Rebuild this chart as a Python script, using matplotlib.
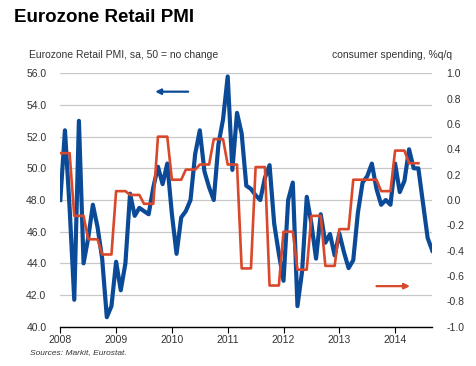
import matplotlib
matplotlib.use("Agg")
import matplotlib.pyplot as plt
import numpy as np

plt.rcParams['font.family'] = ['Liberation Sans', 'DejaVu Sans']

# Monthly Eurozone Retail PMI, Jan 2008 - Sep 2014
pmi = [48.0, 52.4, 47.5, 41.7, 53.0, 44.0, 45.6, 47.7, 46.3, 44.3, 40.6, 41.3,
       44.1, 42.3, 44.0, 48.4, 47.0, 47.5, 47.3, 47.1, 48.8, 50.1, 49.0, 50.3,
       47.1, 44.6, 46.9, 47.3, 48.0, 50.9, 52.4, 49.8, 48.8, 48.0, 51.5, 53.1,
       55.8, 49.9, 53.5, 52.2, 48.9, 48.7, 48.3, 48.0, 49.4, 50.2, 46.5, 44.6,
       42.9, 48.0, 49.1, 41.3, 43.5, 48.2, 46.5, 44.3, 47.1, 45.3, 45.85, 44.5,
       45.9, 44.7, 43.7, 44.2, 47.2, 49.1, 49.5, 50.3, 48.7, 47.7, 48.0, 47.7,
       50.3, 48.5, 49.2, 51.2, 50.0, 50.0, 47.8, 45.6, 44.8]

# Quarterly consumer spending %q/q, Q1 2008 - Q2 2014
spending_q = [0.37, -0.125, -0.31, -0.43,
              0.07, 0.04, -0.03, 0.50,
              0.16, 0.24, 0.28, 0.48,
              0.28, -0.54, 0.26, -0.675,
              -0.25, -0.55, -0.125, -0.52,
              -0.23, 0.16, 0.16, 0.07,
              0.39, 0.29]

year_labels = ['2008', '2009', '2010', '2011', '2012', '2013', '2014']
left_ticks = [40, 42, 44, 46, 48, 50, 52, 54, 56]
right_ticks = [-1.0, -0.8, -0.6, -0.4, -0.2, 0.0, 0.2, 0.4, 0.6, 0.8, 1.0]

BLUE = '#0b4a97'
ORANGE = '#d9482b'
TXT = '#333333'

fig = plt.figure(figsize=(4.76, 3.66), dpi=100)
ax = fig.add_axes([0.1267, 0.1074, 0.9082 - 0.1267, 0.7997 - 0.1074])
ax2 = ax.twinx()

months = np.arange(len(pmi))
spend_m = np.repeat(spending_q, 3)
months_s = np.arange(len(spend_m))

ax.plot(months, pmi, color=BLUE, lw=3.0, solid_joinstyle='round', zorder=3)
ax2.plot(months_s, spend_m, color=ORANGE, lw=1.9, zorder=4)

ax.set_xlim(0, 80)
ax.set_ylim(40, 56)
ax2.set_ylim(-1.0, 1.0)

ax.set_yticks(left_ticks)
ax.set_yticklabels([f'{v:.1f}' for v in left_ticks])
ax2.set_yticks(right_ticks)
ax2.set_yticklabels([f'{v:.1f}' for v in right_ticks])
for lab in ax2.get_yticklabels():
    lab.set_horizontalalignment('left')

ax.set_xticks(np.arange(0, 80, 12))
ax.set_xticklabels(year_labels)

for a in (ax, ax2):
    for s in ('top', 'right', 'left'):
        a.spines[s].set_visible(False)
ax2.spines['bottom'].set_visible(False)
ax.spines['bottom'].set_color('black')
ax.spines['bottom'].set_linewidth(1.0)

ax.yaxis.grid(True, color='#c8c8c8', lw=0.9)
ax.set_axisbelow(True)
ax.tick_params(axis='y', length=0, pad=10, labelsize=7.5, labelcolor=TXT)
ax2.tick_params(axis='y', length=0, pad=10, labelsize=7.5, labelcolor=TXT)
ax.tick_params(axis='x', length=4, width=0.8, direction='out', pad=2,
               labelsize=7.5, labelcolor=TXT)

# arrows
ax.annotate('', xy=(20.4, 54.84), xytext=(27.5, 54.84),
            arrowprops=dict(arrowstyle='-|>', color=BLUE, lw=1.6,
                            mutation_scale=8, shrinkA=0, shrinkB=0), zorder=5)
ax2.annotate('', xy=(75.2, -0.68), xytext=(68.0, -0.68),
             arrowprops=dict(arrowstyle='-|>', color=ORANGE, lw=1.6,
                             mutation_scale=8, shrinkA=0, shrinkB=0), zorder=5)

fig.text(14 / 476, 1 - 21.7 / 366, 'Eurozone Retail PMI', fontsize=13.5,
         fontweight='bold', color='black', va='baseline', ha='left')
fig.text(29 / 476, 1 - 55 / 366, 'Eurozone Retail PMI, sa, 50 = no change',
         fontsize=7.5, color=TXT, va='center', ha='left')
fig.text(452 / 476, 1 - 55 / 366, 'consumer spending, %q/q',
         fontsize=7.5, color=TXT, va='center', ha='right')
fig.text(30 / 476, 1 - 353 / 366, 'Sources: Markit, Eurostat.',
         fontsize=6, style='italic', color=TXT, va='center', ha='left')

fig.savefig('out.png', dpi=100)
